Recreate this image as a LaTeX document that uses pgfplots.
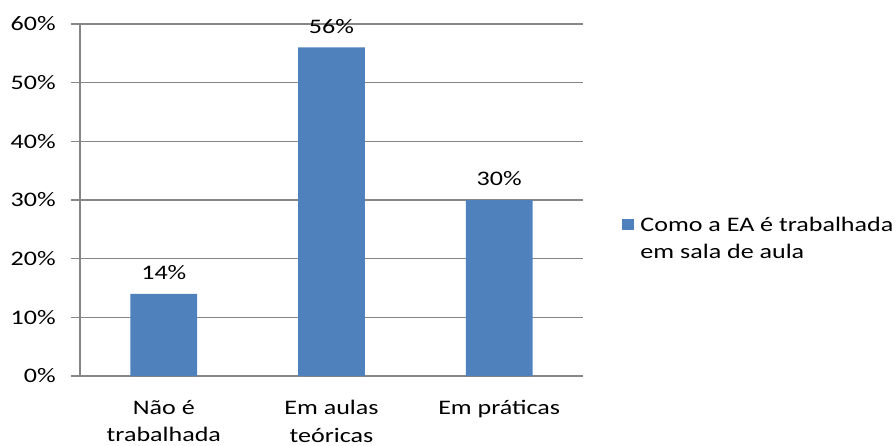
\documentclass[border=0pt]{standalone}
\usepackage{fontspec}
\setmainfont{Carlito}[FakeStretch=1.26]
\usepackage{pgfplots}
\pgfplotsset{compat=1.18}
\definecolor{barblue}{RGB}{79,129,189}
\definecolor{axgray}{RGB}{134,134,134}
\begin{document}
\begin{tikzpicture}[font=\fontsize{15.5pt}{20.5pt}\selectfont]
\begin{axis}[
  name=ax,
  scale only axis,
  width=377.25pt, height=264pt,
  xmin=-0.5, xmax=2.5, ymin=0, ymax=0.6,
  axis x line*=bottom, axis y line*=left,
  axis line style={axgray, line width=0.8pt},
  ytick={0,0.1,0.2,0.3,0.4,0.5,0.6},
  yticklabels={0\%,10\%,20\%,30\%,40\%,50\%,60\%},
  ymajorgrids, grid style={axgray, line width=0.8pt},
  tick align=outside,
  major tick length=6.75pt,
  tick style={axgray, line width=0.8pt},
  ytick style={axgray},
  yticklabel style={xshift=-8pt},
  xtick={0,1,2},
  xticklabels={N\~ao \'e\\trabalhada, Em aulas\\te\'oricas, Em pr\'aticas},
  xticklabel style={align=center, yshift=-8pt, text depth=0pt},
  x tick style={draw=none},
  extra x ticks={-0.5,0.5,1.5,2.5},
  extra x tick labels={},
  extra x tick style={grid=none, major tick length=5pt, tick style={draw=axgray, line width=0.8pt}},
  ybar, bar width=50pt,
  nodes near coords, point meta=explicit symbolic,
  every node near coord/.append style={yshift=7pt, black},
  legend style={draw=none, at={(1.07,0.39)}, anchor=west, cells={align=left}, column sep=3pt},
  legend image code/.code={\fill[barblue] (0pt,6.5pt) rectangle (8.5pt,15pt);},
]
\addplot[fill=barblue, draw=none] coordinates {(0,0.14) [14\%] (1,0.56) [56\%] (2,0.30) [30\%]};
\addlegendentry{Como a EA \'e trabalhada\\em sala de aula}
\end{axis}
\pgfresetboundingbox
\path[use as bounding box] ([xshift=-60pt,yshift=-52.5pt]ax.south west) rectangle ([xshift=612pt,yshift=282pt]ax.south west);
\end{tikzpicture}
\end{document}
